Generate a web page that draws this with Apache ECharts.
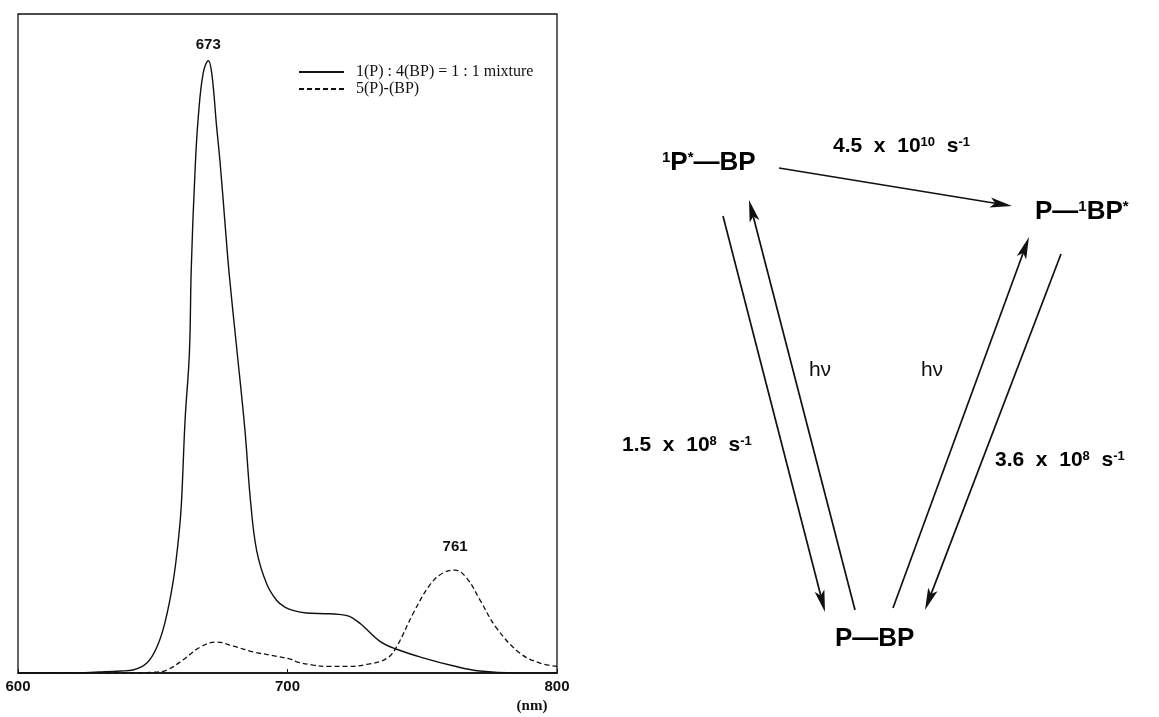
<!DOCTYPE html>
<html lang="en">
<head>
    <meta charset="UTF-8">
    <title>Emission spectra and energy transfer scheme</title>
    <script src="https://cdn.jsdelivr.net/npm/echarts@6/dist/echarts.min.js"></script>
    <style>
        html, body { margin: 0; padding: 0; background: #fff; }
        #main { width: 1159px; height: 717px; }
    </style>
</head>
<body>
<div id="main"></div>
<script type="text/javascript">
    // spectrum: wavelength (nm) / relative intensity
    var mixNm = [600, 620, 630, 638, 643, 647.8, 651.5, 654.5, 657.5, 659.5, 660.6, 662, 663.6, 664.3,
        665.7, 666.9, 668.7, 670.6, 671.9, 673.7, 675, 676.8, 678.4, 681.1, 684.2, 686.3, 688.6, 692.3,
        696, 699, 702, 707, 714, 719, 723, 727, 734.3, 740.5, 750.3, 761.4, 771.4, 785, 800];
    var mixVal = [0, 0, 0.15, 0.3, 0.5, 1.5, 3.9, 7.6, 13.7, 20.2, 25.5, 38.4, 48.6, 61.5,
        76.3, 84.4, 91.0, 92.9, 91.0, 82.9, 77.4, 68.3, 60.4, 49.5, 36.9, 26.0, 18.5, 13.5,
        11.0, 10.0, 9.5, 9.1, 9.0, 8.9, 8.6, 7.5, 4.8, 3.6, 2.3, 1.1, 0.3, 0, 0];

    var linkNm = [600, 640, 650, 655.2, 661.3, 667.5, 673.7, 679.8, 687.3, 694.6, 701, 703.4, 709.5,
        715, 722, 729.4, 736.8, 740.5, 746.7, 752.9, 757.8, 762.2, 766.5, 771.4, 777.6, 786.3, 793.7, 800];
    var linkVal = [0, 0, 0.1, 0.45, 2.0, 3.9, 4.7, 4.1, 3.2, 2.65, 2.1, 1.7, 1.2,
        1.0, 1.0, 1.3, 2.2, 4.0, 9.1, 13.4, 15.2, 15.6, 14.4, 11.1, 6.8, 3.0, 1.5, 1.0];

    var seriesNames = ['1(P) : 4(BP) = 1 : 1 mixture', '5(P)-(BP)'];
    var peakLabels = ['673', '761'];
    var xTicks = [600, 700, 800];

    function pairs(xs, ys) {
        var out = [];
        for (let i = 0; i < xs.length; i++) {
            out.push([xs[i], ys[i]]);
        }
        return out;
    }

    // arrow = line + filled head, tip at (x2, y2)
    function arrow(x1, y1, x2, y2) {
        var len = 22, half = 5, notch = 17;
        var dx = x2 - x1, dy = y2 - y1;
        var d = Math.sqrt(dx * dx + dy * dy);
        var ux = dx / d, uy = dy / d;
        var bx = x2 - ux * len, by = y2 - uy * len;
        var nx = x2 - ux * notch, ny = y2 - uy * notch;
        return [
            {
                type: 'line',
                shape: { x1: x1, y1: y1, x2: nx, y2: ny },
                style: { stroke: '#111', lineWidth: 1.7 }
            },
            {
                type: 'polygon',
                shape: { points: [[x2, y2], [bx - uy * half, by + ux * half], [nx, ny], [bx + uy * half, by - ux * half]] },
                style: { fill: '#111' }
            }
        ];
    }

    var richFont = {
        n: { fontFamily: 'Liberation Sans', fontWeight: 'bold', fontSize: 26, color: '#111' },
        u: { fontFamily: 'Liberation Sans', fontWeight: 'bold', fontSize: 15, color: '#111', verticalAlign: 'top' },
        r: { fontFamily: 'Liberation Sans', fontWeight: 'bold', fontSize: 21, color: '#111' },
        ru: { fontFamily: 'Liberation Sans', fontWeight: 'bold', fontSize: 13, color: '#111', verticalAlign: 'top' }
    };

    function label(x, y, text) {
        return {
            type: 'text',
            x: x,
            y: y,
            style: { text: text, rich: richFont, verticalAlign: 'middle', align: 'left' }
        };
    }

    var graphics = [
        {
            type: 'text', x: 532, y: 706,
            style: { text: '(nm)', font: 'bold 15px "Liberation Serif"', fill: '#111', align: 'center', verticalAlign: 'middle' }
        },
        label(662, 163, '{u|1}{n|P}{u|*}{n|—BP}'),
        label(833, 146, '{r|4.5  x  10}{ru|10}{r|  s}{ru|-1}'),
        label(1035, 212, '{n|P—}{u|1}{n|BP}{u|*}'),
        label(622, 445, '{r|1.5  x  10}{ru|8}{r|  s}{ru|-1}'),
        label(995, 460, '{r|3.6  x  10}{ru|8}{r|  s}{ru|-1}'),
        label(835, 639, '{n|P—BP}'),
        {
            type: 'text', x: 820, y: 370,
            style: { text: 'hν', font: '21px "Liberation Sans"', fill: '#111', align: 'center', verticalAlign: 'middle' }
        },
        {
            type: 'text', x: 932, y: 370,
            style: { text: 'hν', font: '21px "Liberation Sans"', fill: '#111', align: 'center', verticalAlign: 'middle' }
        }
    ];
    graphics = graphics
        .concat(arrow(779, 168, 1012, 206))
        .concat(arrow(723, 216, 825, 612))
        .concat(arrow(855, 610, 749, 200))
        .concat(arrow(893, 608, 1029, 237))
        .concat(arrow(1061, 254, 925, 610));

    var option = {
        animation: false,
        backgroundColor: '#fff',
        grid: {
            left: 18, right: 602, top: 14, bottom: 44,
            show: true, borderColor: '#111', borderWidth: 1.3
        },
        legend: {
            orient: 'vertical',
            left: 293,
            top: 59,
            itemWidth: 45,
            itemHeight: 13,
            itemGap: 1,
            data: seriesNames,
            itemStyle: { opacity: 0 },
            textStyle: { fontFamily: 'Liberation Serif', fontSize: 16, color: '#111', padding: [0, 0, 0, 7] }
        },
        xAxis: {
            type: 'value',
            min: xTicks[0],
            max: xTicks[xTicks.length - 1],
            interval: 100,
            axisLine: { lineStyle: { color: '#111', width: 1.5 } },
            axisTick: { inside: true, length: 4, lineStyle: { color: '#111' } },
            splitLine: { show: false },
            axisLabel: { color: '#111', fontFamily: 'Liberation Sans', fontWeight: 'bold', fontSize: 15, margin: 6 }
        },
        yAxis: {
            type: 'value',
            min: 0,
            max: 100,
            axisLine: { show: false },
            axisTick: { show: false },
            axisLabel: { show: false },
            splitLine: { show: false }
        },
        series: [
            {
                name: seriesNames[0],
                type: 'line',
                data: pairs(mixNm, mixVal),
                smooth: 0.4,
                symbol: 'none',
                lineStyle: { color: '#111', width: 1.4 },
                itemStyle: { color: '#111' },
                markPoint: {
                    symbol: 'circle',
                    symbolSize: 1,
                    itemStyle: { color: 'rgba(0,0,0,0)' },
                    label: { show: true, position: 'top', distance: 8, formatter: peakLabels[0],
                        fontFamily: 'Liberation Sans', fontWeight: 'bold', fontSize: 15, color: '#111' },
                    data: [{ type: 'max' }]
                }
            },
            {
                name: seriesNames[1],
                type: 'line',
                data: pairs(linkNm, linkVal),
                smooth: 0.4,
                symbol: 'none',
                lineStyle: { color: '#111', width: 1.3, type: [5, 3] },
                itemStyle: { color: '#111' },
                markPoint: {
                    symbol: 'circle',
                    symbolSize: 1,
                    itemStyle: { color: 'rgba(0,0,0,0)' },
                    label: { show: true, position: 'top', distance: 15, formatter: peakLabels[1],
                        fontFamily: 'Liberation Sans', fontWeight: 'bold', fontSize: 15, color: '#111' },
                    data: [{ type: 'max' }]
                }
            }
        ],
        graphic: graphics
    };

    var myChart = echarts.init(document.getElementById('main'));
    myChart.setOption(option);
</script>
</body>
</html>
